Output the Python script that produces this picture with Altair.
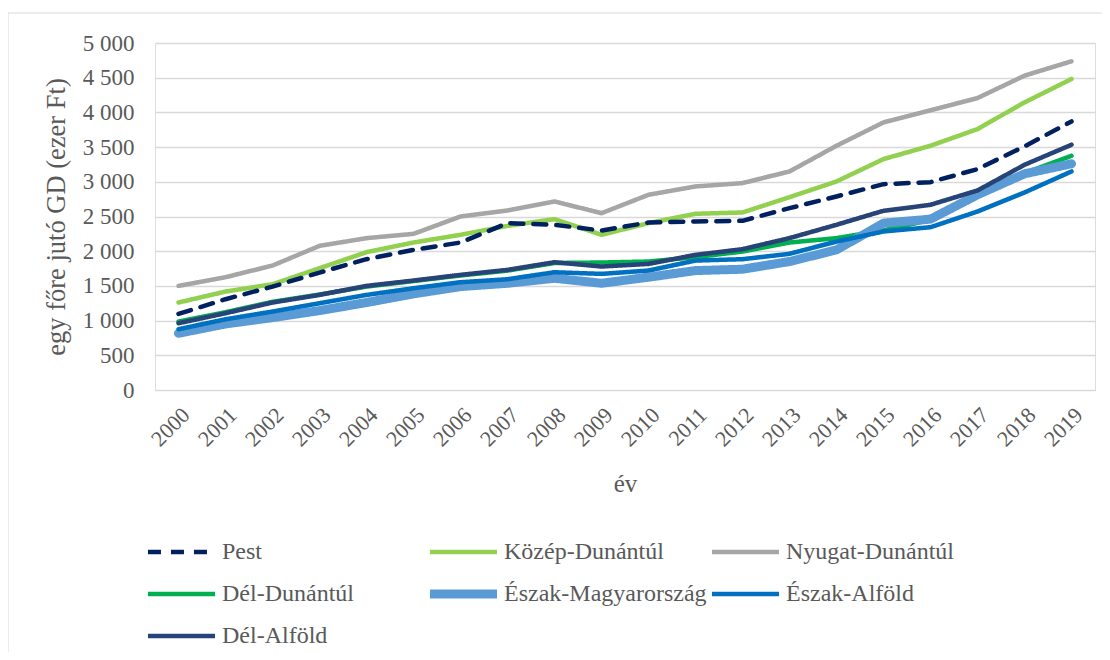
import altair as alt
import pandas as pd

years = list(range(2000, 2020))
series = ["Pest", "Közép-Dunántúl", "Nyugat-Dunántúl", "Dél-Dunántúl",
          "Észak-Magyarország", "Észak-Alföld", "Dél-Alföld"]
colors = ["#002060", "#92D050", "#A6A6A6", "#00B050", "#5B9BD5", "#0070C0", "#264478"]
widths = [4.5, 4.5, 4.5, 4.5, 9, 4.5, 4.5]
dashes = [[13, 10], [1, 0], [1, 0], [1, 0], [1, 0], [1, 0], [1, 0]]

pest = [1096, 1308, 1490, 1692, 1885, 2019, 2125, 2404, 2380, 2298, 2414, 2428, 2438, 2620, 2789, 2966, 2995, 3183, 3510, 3870]
kozep_dunantul = [1260, 1418, 1524, 1755, 1986, 2125, 2236, 2365, 2462, 2236, 2404, 2539, 2558, 2779, 3005, 3327, 3519, 3760, 4144, 4481]
nyugat_dunantul = [1500, 1625, 1793, 2077, 2188, 2250, 2500, 2587, 2716, 2548, 2813, 2933, 2981, 3149, 3519, 3856, 4029, 4207, 4529, 4736]
del_dunantul = [986, 1120, 1270, 1375, 1490, 1570, 1650, 1720, 1830, 1837, 1851, 1914, 1995, 2125, 2188, 2300, 2450, 2813, 3125, 3375]
eszak_magyarorszag = [817, 952, 1043, 1144, 1260, 1385, 1490, 1538, 1610, 1538, 1625, 1721, 1740, 1851, 2019, 2404, 2462, 2813, 3115, 3260]
eszak_alfold = [875, 1019, 1130, 1250, 1370, 1466, 1553, 1596, 1697, 1673, 1721, 1865, 1885, 1962, 2139, 2284, 2346, 2572, 2846, 3149]
del_alfold = [962, 1106, 1260, 1370, 1500, 1577, 1659, 1731, 1841, 1779, 1817, 1947, 2029, 2188, 2380, 2582, 2668, 2875, 3245, 3534]

values = {
    "Pest": pest, "Közép-Dunántúl": kozep_dunantul, "Nyugat-Dunántúl": nyugat_dunantul,
    "Dél-Dunántúl": del_dunantul, "Észak-Magyarország": eszak_magyarorszag,
    "Észak-Alföld": eszak_alfold, "Dél-Alföld": del_alfold,
}
draw_order = ["Nyugat-Dunántúl", "Közép-Dunántúl", "Dél-Dunántúl", "Észak-Magyarország",
              "Észak-Alföld", "Dél-Alföld", "Pest"]
rows = []
for i, s in enumerate(draw_order):
    for y, v in zip(years, values[s]):
        rows.append({"ev": str(y), "regio": s, "ertek": v, "z": i})
df = pd.DataFrame(rows)

FONT = "Liberation Serif"
GREY = "#595959"

legend = alt.Legend(
    title=None, orient="none", legendX=-12, legendY=495, columns=3, direction="horizontal",
    symbolType="M-1,0H1", symbolSize=4500, clipHeight=28,
    labelFont=FONT, labelFontSize=24, labelColor=GREY,
    gridAlign="all", columnPadding=-5, rowPadding=14, labelOffset=2, labelLimit=400,
)

lines = alt.Chart(df).mark_line(strokeCap="round", strokeJoin="round").encode(
    x=alt.X("ev:O", title="év",
            scale=alt.Scale(paddingOuter=0.5),
            axis=alt.Axis(labelAngle=-45, labelFont=FONT, labelFontSize=22, labelColor=GREY,
                          ticks=False, domainColor="#D9D9D9", labelPadding=14,
                          titleFont=FONT, titleFontSize=25, titleColor=GREY,
                          titleFontWeight="normal", titlePadding=22)),
    y=alt.Y("ertek:Q", title="egy főre jutó GD (ezer Ft)",
            scale=alt.Scale(domain=[0, 5000]),
            axis=alt.Axis(values=list(range(0, 5001, 500)),
                          labelExpr="replace(format(datum.value, ','), ',', ' ')",
                          labelFont=FONT, labelFontSize=23, labelColor=GREY,
                          ticks=False, domain=False, gridColor="#D9D9D9", gridWidth=1.3,
                          labelPadding=21, titleFont=FONT, titleFontSize=26.5, titleColor=GREY,
                          titleFontWeight="normal", titlePadding=12)),
    color=alt.Color("regio:N", scale=alt.Scale(domain=series, range=colors), legend=legend),
    strokeWidth=alt.StrokeWidth("regio:N", scale=alt.Scale(type="ordinal", domain=series, range=widths), legend=legend),
    strokeDash=alt.StrokeDash("regio:N", scale=alt.Scale(domain=series, range=dashes), legend=legend),
    order=alt.Order("z:Q"),
)

frame_top = alt.Chart().mark_rule(color="#D9D9D9", strokeWidth=1).encode(
    x=alt.value(-147), x2=alt.value(950), y=alt.value(-30))
frame_left = alt.Chart().mark_rule(color="#D9D9D9", strokeWidth=1).encode(
    x=alt.value(-147), y=alt.value(-30), y2=alt.value(620))

chart = alt.layer(frame_top, frame_left, lines).properties(
    width=940, height=347,
    autosize=alt.AutoSizeParams(type="none"),
    padding={"left": 147, "top": 35, "right": 7, "bottom": 262},
).configure_view(stroke=None).configure_axis(
    titleFont=FONT, labelFont=FONT
).configure(background="white")

chart.save("out.html", embed_options={"renderer": "svg", "actions": False})
